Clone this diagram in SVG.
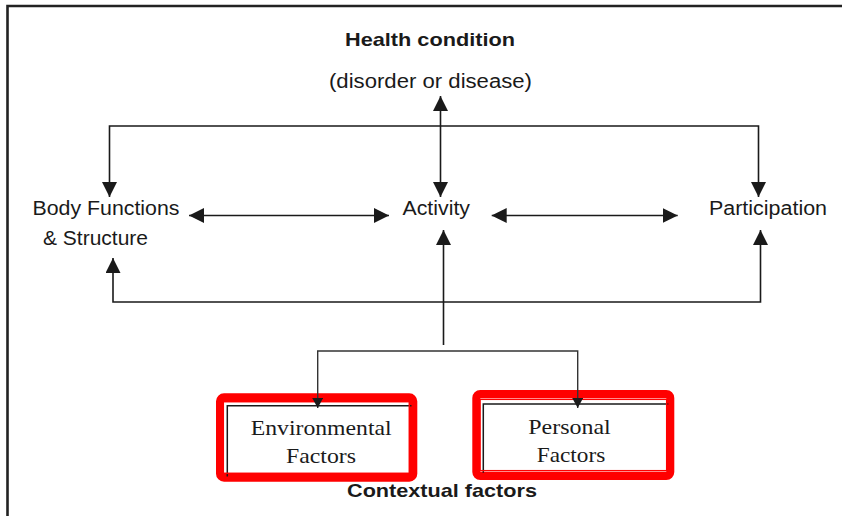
<svg xmlns="http://www.w3.org/2000/svg" width="842" height="516" viewBox="0 0 842 516">
<style>
.lbl{font-family:"Liberation Sans",Arial,sans-serif;font-size:20px;fill:#1a1a1a}
.bold{font-family:"Liberation Sans",Arial,sans-serif;font-weight:bold;font-size:18.5px;fill:#1a1a1a}
.ser{font-family:"Liberation Serif","Times New Roman",serif;font-size:22px;fill:#1a1a1a}
.ln{fill:none;stroke:#1a1a1a;stroke-width:1.6}
.thin{fill:none;stroke:#333;stroke-width:1.4}
.redout{fill:none;stroke:#ff0000;stroke-width:8}
.redin{fill:none;stroke:#ff0000;stroke-width:1.5}
.blk{fill:none;stroke:#1a1a1a;stroke-width:1.5}
</style>
<defs>
<marker id="ah" markerUnits="userSpaceOnUse" markerWidth="15" markerHeight="15" viewBox="0 0 15 15" refX="15" refY="7.5" orient="auto-start-reverse">
<path d="M0,0 L15,7.5 L0,15 z" fill="#1a1a1a"/>
</marker>
<marker id="sm" markerUnits="userSpaceOnUse" markerWidth="10" markerHeight="11" viewBox="0 0 10 11" refX="10" refY="5.5" orient="auto-start-reverse">
<path d="M0,0 L10,5.5 L0,11 z" fill="#1a1a1a"/>
</marker>
</defs>
<rect width="842" height="516" fill="#ffffff"/>
<g id="border">
<path d="M7.5,516 V6 H842" fill="none" stroke="#222" stroke-width="2.6"/>
</g>
<g id="health-condition">
<text class="bold" x="430" y="46" text-anchor="middle" textLength="170" lengthAdjust="spacingAndGlyphs">Health condition</text>
<text class="lbl" x="430.5" y="88" text-anchor="middle" textLength="203" lengthAdjust="spacingAndGlyphs">(disorder or disease)</text>
</g>
<g id="body-functions">
<text class="lbl" x="32.5" y="215" textLength="147" lengthAdjust="spacingAndGlyphs">Body Functions</text>
<text class="lbl" x="43" y="245" textLength="105" lengthAdjust="spacingAndGlyphs">&amp; Structure</text>
</g>
<g id="activity">
<text class="lbl" x="402.5" y="214.5" textLength="67.5" lengthAdjust="spacingAndGlyphs">Activity</text>
</g>
<g id="participation">
<text class="lbl" x="709" y="215" textLength="118" lengthAdjust="spacingAndGlyphs">Participation</text>
</g>
<g id="environmental-factors">
<rect class="redout" x="220" y="397.3" width="193.3" height="80.4" rx="4"/>
<path class="blk" d="M227.3,476.5 V405.7 H411.5"/>
<rect class="redin" x="223.3" y="401.7" width="186" height="71.6"/>
<text class="ser" x="321.2" y="435" text-anchor="middle" textLength="141" lengthAdjust="spacingAndGlyphs">Environmental</text>
<text class="ser" x="321" y="463" text-anchor="middle" textLength="70" lengthAdjust="spacingAndGlyphs">Factors</text>
</g>
<g id="personal-factors">
<rect class="redout" x="476.3" y="394" width="194" height="82" rx="4"/>
<path class="blk" d="M483.3,472.7 V404 H668.3"/>
<rect class="redin" x="480" y="399.3" width="186.7" height="71.4"/>
<text class="ser" x="569.5" y="434" text-anchor="middle" textLength="82.5" lengthAdjust="spacingAndGlyphs">Personal</text>
<text class="ser" x="571" y="461.7" text-anchor="middle" textLength="68.5" lengthAdjust="spacingAndGlyphs">Factors</text>
</g>
<g id="contextual-factors">
<text class="bold" x="442" y="496.7" text-anchor="middle" textLength="190" lengthAdjust="spacingAndGlyphs">Contextual factors</text>
</g>
<g id="connectors">
<path class="ln" d="M109.5,197 V126 H758.5 V197" marker-start="url(#ah)" marker-end="url(#ah)"/>
<path class="ln" d="M440.5,96 V197" marker-start="url(#ah)" marker-end="url(#ah)"/>
<path class="ln" d="M189,215.5 H389" marker-start="url(#ah)" marker-end="url(#ah)"/>
<path class="ln" d="M491.7,215.5 H677.7" marker-start="url(#ah)" marker-end="url(#ah)"/>
<path class="ln" d="M113,258 V302 H760.5 V230" marker-start="url(#ah)" marker-end="url(#ah)"/>
<path class="ln" d="M443.5,345 V230" marker-end="url(#ah)"/>
<path class="thin" d="M317.7,408 V351 H577.7 V408" marker-start="url(#sm)" marker-end="url(#sm)"/>
</g>
</svg>
